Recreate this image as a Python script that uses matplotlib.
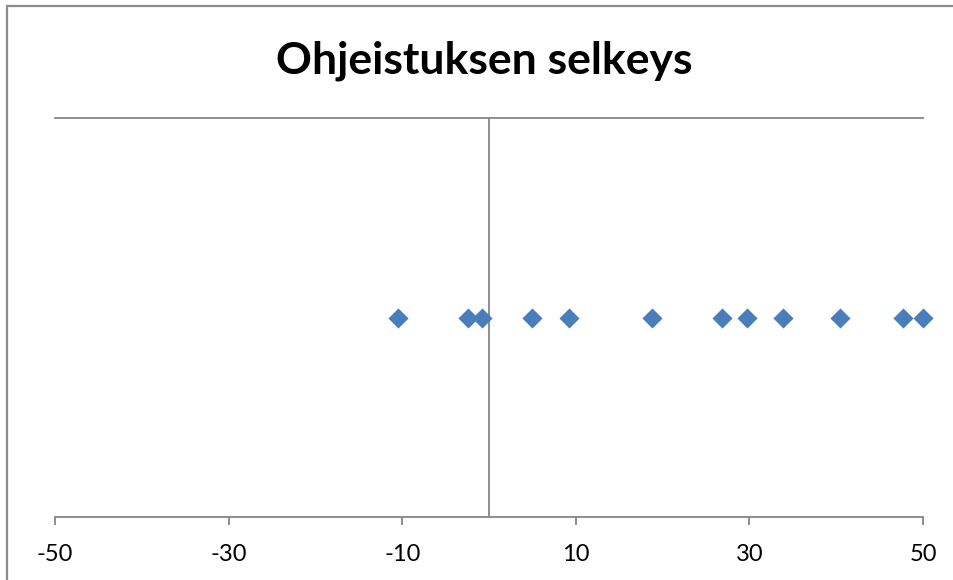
import numpy as np
import matplotlib
matplotlib.use("Agg")
import matplotlib.pyplot as plt
from matplotlib.patches import Rectangle

# arvot luettu kuvasta
x_vals = [-10.5, -2.4, -0.85, 5.0, 9.2, 18.8, 26.9, 29.7, 33.9, 40.4, 47.7, 50.0]
y_vals = [1] * len(x_vals)
x_ticks = [-50, -30, -10, 10, 30, 50]
title = "Ohjeistuksen selkeys"

plt.rcParams['font.family'] = ['Lato', 'DejaVu Sans']
plt.rcParams['axes.unicode_minus'] = False

W, H = 954, 580
fig = plt.figure(figsize=(W / 100, H / 100), dpi=100)

# chart area border (runs off the right and bottom edges)
fig.patches.append(Rectangle((7 / W, -0.1), 1.2, 1 - 6 / H + 0.1, transform=fig.transFigure,
                             fill=False, edgecolor='#8c8c8c', linewidth=1.6))

ax = fig.add_axes([55 / W, 1 - 517 / H, (923 - 55) / W, (517 - 118) / H])
ax.scatter(x_vals, y_vals, marker='D', s=105, color='#4a7ebb', zorder=3, linewidths=0,
           clip_on=False)

ax.set_xlim(-50, 50)
ax.set_ylim(0, 2)
ax.set_xticks(x_ticks)
ax.set_yticks([])
for s in ['left', 'right', 'top']:
    ax.spines[s].set_visible(False)
ax.spines['bottom'].set_color('#868686')
ax.spines['bottom'].set_linewidth(1.3)
ax.axhline(2, color='#868686', lw=1.3, clip_on=False)
ax.axvline(0, color='#868686', lw=1.3)
ax.tick_params(axis='x', direction='out', length=5.5, width=1.3, color='#868686',
               labelsize=17, pad=14, labelcolor='black')

fig.text(0.508, 1 - 61 / H, title, ha='center', va='center', fontsize=32, fontweight='bold')

fig.savefig('out.png', dpi=100)
